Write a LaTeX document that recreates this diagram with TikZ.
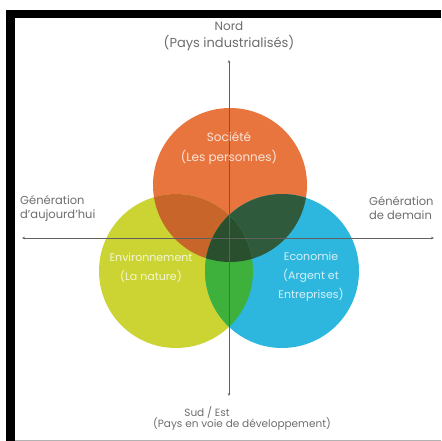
\documentclass[tikz,border=0pt]{standalone}
\usepackage{fontspec}
\setmainfont{Poppins}
\usetikzlibrary{arrows.meta}
\definecolor{corange}{HTML}{E8753E}
\definecolor{cyellow}{HTML}{CBD432}
\definecolor{cblue}{HTML}{2DB7DE}
\definecolor{cOY}{HTML}{C8652A}
\definecolor{cOB}{HTML}{2F5B3C}
\definecolor{cYB}{HTML}{3DB13C}
\definecolor{cOYB}{HTML}{2A4F2F}
\definecolor{ctext}{HTML}{6E6E6E}
\tikzset{
  lbl/.style={text=ctext, align=center, inner sep=0pt},
  lblL/.style={lbl, align=left, anchor=west, font=\fontsize{11.5}{14}\selectfont},
  inlbl/.style={text=white, text opacity=0.8, align=center, inner sep=0pt},
  axis/.style={draw=gray!75!black, line width=0.7pt, {Stealth[length=3pt,width=2.5pt]}-{Stealth[length=3pt,width=2.5pt]}}
}
\begin{document}
\begin{tikzpicture}[x=1pt,y=-1pt]
\useasboundingbox (0,0) rectangle (441,441);
\fill[white] (0,0) rectangle (441,441);
% frame
\fill[black] (6,10) rectangle (441,18);
\fill[black] (6,10) rectangle (15,441);
\draw[gray!60, line width=0.8pt] (15,440) -- (441,440);
% circle centres
\coordinate (S) at (230,185);
\coordinate (E) at (176,271);
\coordinate (C) at (282,271);
\def\rr{77}
\fill[corange] (S) circle (\rr);
\fill[cyellow] (E) circle (\rr);
\fill[cblue] (C) circle (\rr);
\begin{scope}
  \clip (S) circle (\rr);
  \fill[cOY] (E) circle (\rr);
  \fill[cOB] (C) circle (\rr);
\end{scope}
\begin{scope}
  \clip (E) circle (\rr);
  \fill[cYB] (C) circle (\rr);
\end{scope}
\begin{scope}
  \clip (S) circle (\rr);
  \clip (E) circle (\rr);
  \fill[cOYB] (C) circle (\rr);
\end{scope}
% axes
\coordinate (ntip) at (229,60);
\coordinate (stip) at (229,396);
\coordinate (wtip) at (22,238);
\coordinate (etip) at (434,238);
\draw[axis] (stip) -- (ntip);
\draw[axis] (wtip) -- (etip);
% labels
\node[lbl, font=\fontsize{12}{14}\selectfont] (nord1) at (229,26) {Nord};
\node[lbl, font=\fontsize{13}{14}\selectfont] (nord2) at (229,43) {(Pays industrialisés)};
\node[lbl, font=\fontsize{10.5}{12}\selectfont] (sud1) at (207,412) {Sud / Est};
\node[lbl, font=\fontsize{10.5}{12}\selectfont] (sud2) at (242,424) {(Pays en voie de développement)};
\node[lblL] (gauj) at (20,208) {Génération\\d'aujourd'hui};
\node[lblL] (gdem) at (369,208) {Génération\\de demain};
\node[inlbl, font=\fontsize{12}{20}\selectfont] (soc) at (229,148) {Société\\(Les personnes)};
\node[inlbl, font=\fontsize{11}{19.5}\selectfont] (env) at (151,268) {Environnement\\(La nature)};
\node[inlbl, font=\fontsize{11}{19}\selectfont] (eco) at (311,277) {Economie\\(Argent et\\Entreprises)};
\end{tikzpicture}
\end{document}
